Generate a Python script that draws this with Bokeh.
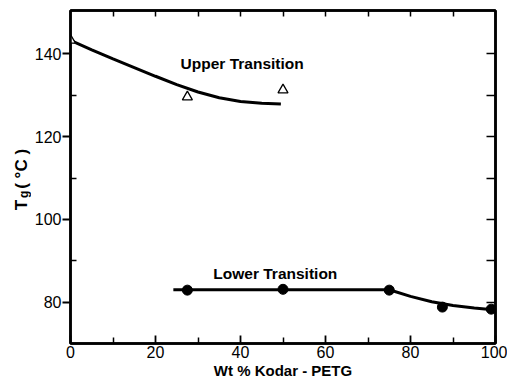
from math import pi
from bokeh.plotting import figure
from bokeh.models import Range1d, FixedTicker, LinearAxis, Label
from bokeh.layouts import row
from bokeh.core.properties import value
from bokeh.embed import file_html
from bokeh.resources import INLINE

# Data
upper_x = [0, 27.5, 50]
upper_y = [143.3, 129.6, 131.3]
upper_curve_x = [0, 5, 10, 15, 20, 25, 30, 35, 40, 45, 49.5]
upper_curve_y = [143.3, 141.0, 138.8, 136.7, 134.6, 132.6, 130.8, 129.4, 128.5, 128.1, 127.9]

lower_x = [27.5, 50, 75, 87.5, 99]
lower_y = [82.9, 83.1, 82.9, 78.8, 78.3]
lower_curve_x = [24.2, 75, 80, 85, 90, 95, 100]
lower_curve_y = [83.0, 83.0, 81.4, 80.1, 79.2, 78.6, 78.1]

x_ticks = [0, 20, 40, 60, 80, 100]
x_minor = [10, 30, 50, 70, 90]
y_ticks = [80, 100, 120, 140]
y_minor = [90, 110, 130]
top_ticks = [10, 20, 30, 40, 50, 60, 70, 80, 90]
right_ticks = [80, 90, 100, 110, 120, 130, 140]

FONT = "Liberation Sans"
H = 382
YL_W = 31

y_range = Range1d(70, 150.5)

# ---- narrow panel holding the rotated y-axis title (frame aligns with main plot) ----
yl = figure(width=YL_W, height=H, x_range=Range1d(0, YL_W), y_range=y_range,
            output_backend="svg", toolbar_location=None, min_border=0,
            x_axis_location=None, y_axis_location=None)
yl.outline_line_color = None
yl.grid.visible = False
yl.border_fill_color = "white"
yl.background_fill_color = "white"
yl.text(x=[21], y=[102.2], text=["T"], angle=pi / 2, text_font=value(FONT),
        text_font_size="17px", text_font_style="bold", text_color="black",
        text_align="left", text_baseline="alphabetic")
yl.text(x=[23], y=[105.2], text=["g"], angle=pi / 2, text_font=value(FONT),
        text_font_size="12px", text_font_style="bold", text_color="black",
        text_align="left", text_baseline="alphabetic")
yl.text(x=[20.5], y=[107.4], text=["( °C )"], angle=pi / 2, text_font=value(FONT),
        text_font_size="17px", text_font_style="bold", text_color="black",
        text_align="left", text_baseline="alphabetic")

# ---- main plot ----
p = figure(width=507 - YL_W, height=H, x_range=Range1d(0, 100), y_range=y_range,
           output_backend="svg", toolbar_location=None,
           min_border_left=70 - YL_W, min_border_right=12, min_border_top=10, min_border_bottom=39)
p.xgrid.visible = False
p.ygrid.visible = False
p.outline_line_color = "black"
p.outline_line_width = 2.5
p.background_fill_color = "white"
p.border_fill_color = "white"

# bottom axis
xa = p.xaxis[0]
xa.ticker = FixedTicker(ticks=x_ticks, minor_ticks=x_minor)
xa.major_tick_in = 8
xa.major_tick_out = 0
xa.minor_tick_in = 6
xa.minor_tick_out = 0
xa.axis_line_width = 2.5
xa.major_tick_line_width = 1.8
xa.minor_tick_line_width = 1.5
xa.major_label_standoff = 2
xa.major_label_text_font = FONT
xa.major_label_text_font_size = "16px"
xa.major_label_text_color = "black"
xa.axis_label = "Wt % Kodar - PETG"
xa.axis_label_text_font = FONT
xa.axis_label_text_font_size = "15px"
xa.axis_label_text_font_style = "bold"
xa.axis_label_text_color = "black"
xa.axis_label_standoff = 1

# left axis
ya = p.yaxis[0]
ya.ticker = FixedTicker(ticks=y_ticks, minor_ticks=y_minor)
ya.major_tick_in = 0
ya.major_tick_out = 8
ya.minor_tick_in = 6
ya.minor_tick_out = 0
ya.axis_line_width = 2.5
ya.major_tick_line_width = 1.8
ya.minor_tick_line_width = 1.5
ya.major_label_standoff = 1
ya.major_label_text_font = FONT
ya.major_label_text_font_size = "16px"
ya.major_label_text_color = "black"

# top axis (ticks only, drawn as minor ticks so no labels exist)
ta = LinearAxis(ticker=FixedTicker(ticks=[], minor_ticks=top_ticks),
                major_tick_in=0, major_tick_out=0, minor_tick_in=6, minor_tick_out=0,
                axis_line_width=2.5, minor_tick_line_width=1.5, minor_tick_line_color="black")
p.add_layout(ta, "above")

# right axis (ticks only)
ra = LinearAxis(ticker=FixedTicker(ticks=[], minor_ticks=right_ticks),
                major_tick_in=0, major_tick_out=0, minor_tick_in=9, minor_tick_out=0,
                axis_line_width=2.5, minor_tick_line_width=1.5, minor_tick_line_color="black")
p.add_layout(ra, "right")

# curves
p.line(upper_curve_x, upper_curve_y, line_color="black", line_width=3)
p.line(lower_curve_x, lower_curve_y, line_color="black", line_width=3)
p.scatter(upper_x, upper_y, marker="triangle", size=10, fill_color="white",
          line_color="black", line_width=1.3)
p.scatter(lower_x, lower_y, marker="circle", size=10, fill_color="black", line_color="black")

# annotations inside the frame
p.add_layout(Label(x=25.9, y=137.8, text="Upper Transition", text_font=FONT,
                   text_font_size="15.5px", text_font_style="bold", text_color="black",
                   text_baseline="alphabetic"))
p.add_layout(Label(x=33.6, y=87.0, text="Lower Transition", text_font=FONT,
                   text_font_size="15.5px", text_font_style="bold", text_color="black",
                   text_baseline="alphabetic"))

layout = row(yl, p, spacing=0)
open("out.html", "w").write(file_html(layout, INLINE))
